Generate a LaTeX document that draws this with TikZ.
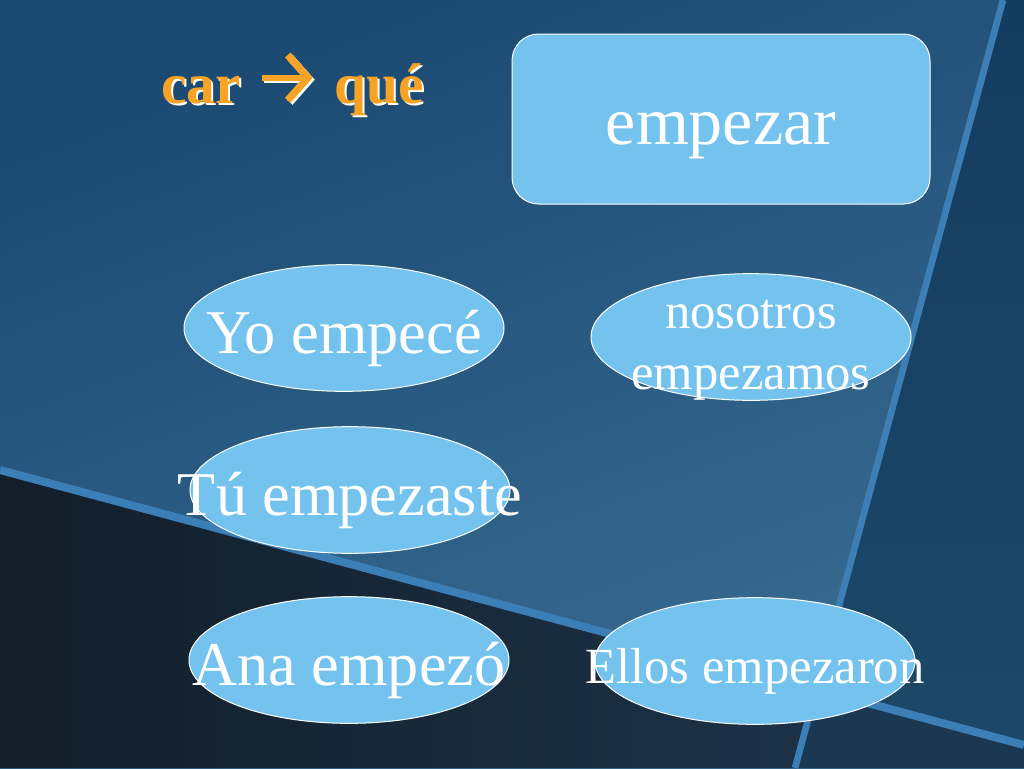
\documentclass[tikz,border=0pt]{standalone}
\usepackage{fontspec}
\setmainfont{Liberation Serif}
\usetikzlibrary{shapes.geometric,arrows.meta}

\definecolor{bubbleBlue}{HTML}{74C2EE}
\definecolor{bgDark}{HTML}{1A4971}
\definecolor{bgMid}{HTML}{22537B}
\definecolor{bgLight}{HTML}{3A6C92}
\definecolor{panelTop}{HTML}{143C60}
\definecolor{panelBottom}{HTML}{1D4868}
\definecolor{floorLeft}{HTML}{121E2A}
\definecolor{floorRight}{HTML}{1C3247}
\definecolor{cornerBlue}{HTML}{1B3853}
\definecolor{stripeBlue}{HTML}{3C7EB6}
\definecolor{titleOrange}{HTML}{F7A325}

\newcommand\bigSize{\fontsize{46.7}{56}\selectfont}
\newcommand\midSize{\fontsize{38}{45.75}\selectfont}
\newcommand\boxSize{\fontsize{51}{61}\selectfont}
\newcommand\titleSize{\fontsize{43}{52}\selectfont}

\begin{document}
\begin{tikzpicture}
[x=0.75pt,y=-0.75pt,
  bubbleDecorate/.style={shape=ellipse,inner sep=0pt,minimum width=240pt,
    minimum height=95pt,fill=bubbleBlue,draw=white,line width=0.75pt},
  boxDecorate/.style={shape=rectangle,rounded corners=20pt,minimum width=313.5pt,
    minimum height=127.5pt,fill=bubbleBlue,draw=white,line width=0.75pt},
  wordDecorate/.style={text=white,inner sep=0pt,yshift=-7.5pt},
  titleDecorate/.style={font=\titleSize\bfseries,inner sep=0pt,text=titleOrange},
  shadowDecorate/.style={titleDecorate,text=white,xshift=1.5pt,yshift=-1.5pt},
  lineDecorate/.style={-{Straight Barb[length=15pt,width=34pt,line width=5.5pt]},
    line width=4.5pt,draw=titleOrange},
  stripeDecorate/.style={draw=stripeBlue,line width=6pt}]
%% background
\useasboundingbox (0,0) rectangle (1024,768);
\shade[top color=bgDark,middle color=bgMid,bottom color=bgLight,shading angle=20]
  (0,0) rectangle (1024,768);
\shade[top color=panelTop,bottom color=panelBottom]
  (1003,0) -- (1024,0) -- (1024,768) -- (795,768) -- cycle;
\shade[left color=floorLeft,right color=floorRight]
  (0,470) -- (816,689) -- (795,768) -- (0,768) -- cycle;
\fill[cornerBlue] (816,689) -- (1024,745) -- (1024,768) -- (795,768) -- cycle;
\draw[stripeDecorate] (0,470) -- (1024,745);
\draw[stripeDecorate,line width=5pt] (1003,0) -- (795,768);
%% title
\node[shadowDecorate,anchor=base east] at (241,103) {car};
\node[shadowDecorate,anchor=base west] at (334,103) {qué};
\node[titleDecorate,anchor=base east] (car) at (241,103) {car};
\node[titleDecorate,anchor=base west] (que) at (334,103) {qué};
\draw[lineDecorate,draw=white]
  ([xshift=17.25pt,yshift=17.5pt]car.base east) -- ([xshift=-14.5pt,yshift=17.5pt]que.base west);
\draw[lineDecorate]
  ([xshift=15.75pt,yshift=19pt]car.base east) -- ([xshift=-16pt,yshift=19pt]que.base west);
%% verb
\node[boxDecorate,label={[wordDecorate,yshift=-5.25pt]center:\boxSize empezar}]
  (verb) at (721,119) {};
%% forms
\foreach \nodename/\x/\y/\fs/\words in {
  yo/344/328/\bigSize/Yo empecé,
  nosotros/751/337/\midSize/{\begin{tabular}{@{}c@{}}nosotros\\empezamos\end{tabular}},
  tu/350/490/\bigSize/Tú empezaste,
  ana/349/660/\bigSize/Ana empezó,
  ellos/755/661/\midSize/Ellos empezaron}
{
  \node[bubbleDecorate,label={[wordDecorate]center:{\fs\words}}] (\nodename) at (\x,\y) {};
}
\end{tikzpicture}
\end{document}
